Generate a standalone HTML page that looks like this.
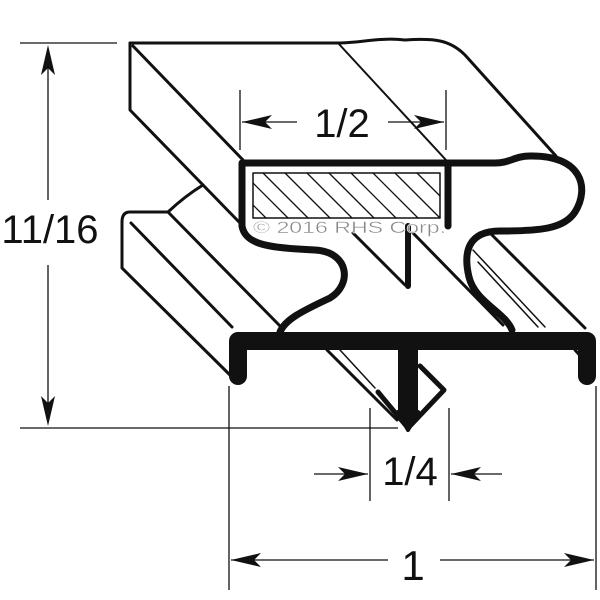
<!DOCTYPE html>
<html><head><style>html,body{margin:0;padding:0;background:#fff}svg{display:block}</style></head>
<body>
<svg width="600" height="600" viewBox="0 0 600 600" xmlns="http://www.w3.org/2000/svg">
<g fill="none" stroke="#111" stroke-linecap="round" stroke-linejoin="round">
<!-- top slab -->
<path d="M130,43 L338,43 C360,43 380,37 405,40 C435,38 450,40 465,55 L556,156" stroke-width="3"/>
<path d="M130,43 L130,110 L240,223" stroke-width="3"/>
<path d="M133,46 L243,160" stroke-width="3"/>
<path d="M338,43 L446,160" stroke-width="2"/>
<!-- lower left slab -->
<path d="M168,212 L130,212 Q122,212 122,222 L122,268 L232,377" stroke-width="3"/>
<path d="M168,212 Q185,196 203,185" stroke-width="3"/>
<path d="M168,212 L282,328" stroke-width="3"/>
<path d="M131,223 L232,327" stroke-width="3"/>
<!-- diagonals in middle -->
<path d="M353,233 L405,285" stroke-width="3"/>
<path d="M413,233 L503,325" stroke-width="3"/>
<path d="M490,233 L585,328" stroke-width="3"/>
<path d="M473,250 L545,327" stroke-width="1.5"/>
<path d="M478,262 L538,327" stroke-width="1.5"/>
<path d="M575,350 L593,370" stroke-width="3"/>
<!-- lower diagonals under bar -->
<path d="M327,350 L397,420" stroke-width="3"/>
<path d="M340,350 L375,388" stroke-width="1.5"/>
<path d="M378,392 L408,428 L444,390 L420,366" stroke-width="5"/>
<!-- thick outline -->
<path d="M242,226 L242,163 L495,163 C510,163 515,156 530,156 C582,155 590,188 575,212 C564,229 540,231 500,231 C468,231 463,252 469,277 C475,302 505,312 512,330" stroke-width="7"/>
<path d="M242,226 C245,245 270,248 315,250 C350,252 352,285 330,298 C300,312 285,320 280,332" stroke-width="7"/>
<path d="M448,163 L448,226" stroke-width="7"/>
<path d="M408,226 L408,286" stroke-width="6"/>
<!-- hatched -->
<rect x="253" y="173" width="187" height="45" stroke-width="1.5"/>
<g stroke-width="1.3">
<path d="M253,183 L288,218 M253,205 L266,218 M263,173 L308,218 M285,173 L330,218 M307,173 L352,218 M329,173 L374,218 M351,173 L396,218 M373,173 L418,218 M395,173 L440,218 M417,173 L440,196"/>
</g>
<!-- bottom bar -->
<path d="M238,376 L238,341 L587,341 L587,376" stroke-width="18"/>
<path d="M408,345 L408,415" stroke-width="20" stroke-linecap="butt"/>
<path d="M398,412 L408,430 L418,412 Z" fill="#111" stroke-width="4"/>
<!-- dimensions -->
<g stroke-width="1.3" stroke-linecap="butt">
<path d="M20,43 L117,43 M20,428 L398,428 M48,50 L48,200 M48,265 L48,420"/>
<path d="M240,90 L240,150 M446,90 L446,150 M242,122 L297,122 M388,122 L444,122"/>
<path d="M370,408 L370,501 M449,408 L449,501 M314,474 L368,474 M451,474 L502,474"/>
<path d="M229,386 L229,590 M596,386 L596,590 M231,560 L388,560 M440,560 L594,560"/>
</g>
<g fill="#111" stroke="none">
<path d="M48,45 L41,75 L48,68 L55,75 Z"/>
<path d="M48,426 L41,396 L48,403 L55,396 Z"/>
<path d="M242,122 L272,115 L265,122 L272,129 Z"/>
<path d="M444,122 L414,115 L421,122 L414,129 Z"/>
<path d="M368,474 L338,467 L345,474 L338,481 Z"/>
<path d="M451,474 L481,467 L474,474 L481,481 Z"/>
<path d="M231,560 L261,553 L254,560 L261,567 Z"/>
<path d="M594,560 L564,553 L571,560 L564,567 Z"/>
</g>
</g>
<g font-family="Liberation Sans, sans-serif" fill="#111">
<text x="50" y="243" font-size="40" text-anchor="middle">11/16</text>
<text x="342" y="137" font-size="40" text-anchor="middle">1/2</text>
<text x="410" y="485" font-size="40" text-anchor="middle">1/4</text>
<text x="413" y="580" font-size="42" text-anchor="middle">1</text>
<text x="253" y="233" font-size="17" fill="#888" stroke="#fff" stroke-width="0.4" textLength="193" lengthAdjust="spacingAndGlyphs">© 2016 RHS Corp.</text>
</g>
</svg>
</body></html>
